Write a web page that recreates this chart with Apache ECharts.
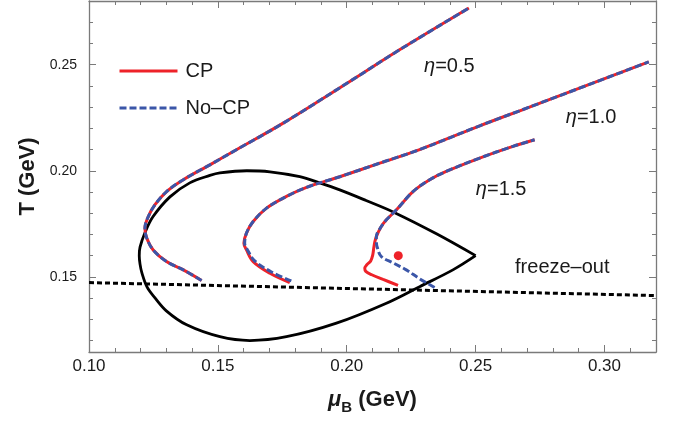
<!DOCTYPE html>
<html>
<head>
<meta charset="utf-8">
<script src="https://cdn.jsdelivr.net/npm/echarts@6/dist/echarts.min.js"></script>
<style>
html, body { margin: 0; padding: 0; background: #fff; }
#main { width: 678px; height: 421px; }
</style>
</head>
<body>
<div id="main"></div>
<script>
// tick values
var xMajor = [0.10, 0.15, 0.20, 0.25, 0.30];
var xMinor = [0.11, 0.12, 0.13, 0.14, 0.16, 0.17, 0.18, 0.19, 0.21, 0.22, 0.23, 0.24, 0.26, 0.27, 0.28, 0.29, 0.31];
var yMajor = [0.15, 0.20, 0.25];
var yMinor = [0.12, 0.13, 0.14, 0.16, 0.17, 0.18, 0.19, 0.21, 0.22, 0.23, 0.24, 0.26, 0.27, 0.28];

// eta = 0.5 (CP and No-CP coincide)
var eta05 = [[0.1437, 0.1483], [0.1366, 0.1533], [0.1301, 0.1572], [0.1249, 0.1627], [0.1224, 0.1683],
    [0.1217, 0.1730], [0.1230, 0.1784], [0.1256, 0.1840], [0.1301, 0.1902], [0.1366, 0.1958],
    [0.1469, 0.2028], [0.1572, 0.2099], [0.1750, 0.2222], [0.2012, 0.2421], [0.2205, 0.2570], [0.2474, 0.2767]];

// eta = 1.0
var eta10Cp = [[0.1779, 0.1473], [0.1702, 0.1517], [0.1637, 0.1572], [0.1611, 0.1627], [0.1601, 0.1659],
    [0.1611, 0.1706], [0.1637, 0.1761], [0.1689, 0.1824], [0.1766, 0.1879], [0.1844, 0.1922],
    [0.1973, 0.1972], [0.2128, 0.2036], [0.2283, 0.2100], [0.2516, 0.2212], [0.2709, 0.2300], [0.3172, 0.2513]];
var eta10NoCp = [[0.1785, 0.1481], [0.1708, 0.1523], [0.1643, 0.1575], [0.1615, 0.1627], [0.1604, 0.1659],
    [0.1611, 0.1706], [0.1637, 0.1761], [0.1689, 0.1824], [0.1766, 0.1879], [0.1844, 0.1922],
    [0.1973, 0.1972], [0.2128, 0.2036], [0.2283, 0.2100], [0.2516, 0.2212], [0.2709, 0.2300], [0.3172, 0.2513]];

// eta = 1.5: shared upper branch, separate lower branches
var eta15Upper = [[0.2115, 0.1690], [0.2134, 0.1737], [0.2154, 0.1769], [0.2193, 0.1816], [0.2257, 0.1902],
    [0.2322, 0.1958], [0.2386, 0.1997], [0.2516, 0.2060], [0.2645, 0.2115], [0.2729, 0.2146]];
var eta15CpLower = [[0.2199, 0.1460], [0.2141, 0.1488], [0.2097, 0.1510], [0.2074, 0.1526], [0.2070, 0.1542],
    [0.2078, 0.1557], [0.2093, 0.1575], [0.2101, 0.1604], [0.2105, 0.1637], [0.2109, 0.1665]];
var eta15NoCpLower = [[0.2341, 0.1450], [0.2283, 0.1491], [0.2231, 0.1533], [0.2180, 0.1566], [0.2134, 0.1596],
    [0.2118, 0.1641], [0.2115, 0.1670]];

// phase boundary loop, starts and ends at the tip
var loop = [[0.2500, 0.1600], [0.2350, 0.1702], [0.2182, 0.1805], [0.2075, 0.1860], [0.1973, 0.1910],
    [0.1895, 0.1943], [0.1818, 0.1972], [0.1702, 0.1995], [0.1612, 0.2000], [0.1508, 0.1990],
    [0.1469, 0.1978], [0.1391, 0.1943], [0.1314, 0.1877], [0.1248, 0.1783], [0.1217, 0.1708],
    [0.1198, 0.1640], [0.1195, 0.1600], [0.1198, 0.1560], [0.1205, 0.1520], [0.1225, 0.1453],
    [0.1256, 0.1401], [0.1300, 0.1340], [0.1379, 0.1274], [0.1508, 0.1218], [0.1624, 0.1200],
    [0.1766, 0.1218], [0.1960, 0.1282], [0.2154, 0.1376], [0.2283, 0.1454], [0.2412, 0.1533], [0.2500, 0.1600]];

var freezeOut = [[0.10, 0.1473], [0.32, 0.1412]];
var critPoint = [[0.22, 0.16]];

var notes = [['η=0.5', 0.2302, 0.2491], ['η=1.0', 0.2852, 0.2250], ['η=1.5', 0.2503, 0.1910], ['freeze–out', 0.2655, 0.1544]];

var RED = '#ee2229';
var BLUE = '#3b56a8';
var FRAME = '#7a7a7a';
var FONT = 'Liberation Sans, Arial, sans-serif';

function frameAxis(gridIndex, pos, min, max, ticks, len, showLine) {
    return {
        type: 'value', gridIndex: gridIndex, position: pos, min: min, max: max,
        axisLine: { show: showLine, onZero: false, lineStyle: { color: FRAME, width: 1.3 } },
        axisTick: { show: true, inside: true, length: len, customValues: ticks, lineStyle: { color: FRAME, width: 1 } },
        axisLabel: { show: false },
        splitLine: { show: false }
    };
}

var myChart = echarts.init(document.getElementById('main'));

var xBottom = frameAxis(0, 'bottom', 0.10, 0.32, xMajor, 7, true);
xBottom.axisLabel = {
    show: true, customValues: xMajor, margin: 6, color: '#1a1a1a', fontSize: 17, fontFamily: FONT,
    formatter: function (v) { return v.toFixed(2); }
};
xBottom.name = '{mu|μ}{sub|B} (GeV)';
xBottom.nameLocation = 'middle';
xBottom.nameGap = 33;
xBottom.nameTextStyle = {
    color: '#1a1a1a', fontSize: 22, fontWeight: 'bold', fontFamily: FONT, lineHeight: 30,
    rich: {
        mu: { fontSize: 22, fontWeight: 'bold', fontStyle: 'italic', fontFamily: FONT, color: '#1a1a1a', lineHeight: 30 },
        sub: { fontSize: 15, fontWeight: 'bold', fontFamily: FONT, color: '#1a1a1a', lineHeight: 15, verticalAlign: 'bottom' }
    }
};

var yLeft = frameAxis(0, 'left', 0.1146, 0.28, yMajor, 7, true);
yLeft.axisLabel = {
    show: true, customValues: yMajor, margin: 12, color: '#1a1a1a', fontSize: 14, fontFamily: FONT,
    formatter: function (v) { return v.toFixed(2); }
};
yLeft.name = 'T (GeV)';
yLeft.nameLocation = 'middle';
yLeft.nameGap = 50;
yLeft.nameTextStyle = { color: '#1a1a1a', fontSize: 22, fontWeight: 'bold', fontFamily: FONT };

function curve(name, data, color, dashed, z) {
    return {
        name: name, type: 'line', data: data, xAxisIndex: 0, yAxisIndex: 0,
        showSymbol: false, symbol: 'none', smooth: 0.35, z: z,
        lineStyle: { color: color, width: 3, type: dashed ? [7, 3] : 'solid' },
        itemStyle: { color: color }
    };
}

var option = {
    animation: false,
    backgroundColor: '#fff',
    grid: [
        { left: 89, right: 22, top: 1, bottom: 69 },
        { left: 89, right: 22, top: 1, bottom: 69 }
    ],
    xAxis: [
        xBottom,
        frameAxis(0, 'top', 0.10, 0.32, xMajor, 7, true),
        frameAxis(1, 'bottom', 0.10, 0.32, xMinor, 4, false),
        frameAxis(1, 'top', 0.10, 0.32, xMinor, 4, false)
    ],
    yAxis: [
        yLeft,
        frameAxis(0, 'right', 0.1146, 0.28, yMajor, 7, true),
        frameAxis(1, 'left', 0.1146, 0.28, yMinor, 4, false),
        frameAxis(1, 'right', 0.1146, 0.28, yMinor, 4, false)
    ],
    legend: {
        data: ['CP', 'No–CP'],
        orient: 'vertical', left: 118, top: 61, padding: 0,
        itemWidth: 58, itemHeight: 20, itemGap: 17,
        itemStyle: { opacity: 0 },
        lineStyle: { width: 3 },
        textStyle: { fontSize: 20, color: '#1a1a1a', fontFamily: FONT, padding: [0, 0, 0, 3] }
    },
    series: [
        {
            name: 'loop', type: 'line', data: loop, showSymbol: false, symbol: 'none', smooth: 0.35, z: 2,
            lineStyle: { color: '#000', width: 2.8 }
        },
        {
            name: 'freeze', type: 'line', data: freezeOut, showSymbol: false, symbol: 'none', z: 2,
            lineStyle: { color: '#000', width: 3, type: [5, 3] }
        },
        curve('CP', eta05, RED, false, 3),
        curve('CP', eta10Cp, RED, false, 3),
        curve('CP', eta15CpLower.concat(eta15Upper), RED, false, 3),
        curve('No–CP', eta05, BLUE, true, 4),
        curve('No–CP', eta10NoCp, BLUE, true, 4),
        curve('No–CP', eta15NoCpLower.concat(eta15Upper), BLUE, true, 4),
        {
            name: 'critical', type: 'scatter', data: critPoint, symbolSize: 9, z: 5,
            itemStyle: { color: RED, opacity: 1 }
        },
        {
            name: 'notes', type: 'scatter', symbolSize: 1, z: 5, silent: true,
            data: notes.map(function (n) { return { name: n[0], value: [n[1], n[2]] }; }),
            itemStyle: { color: 'rgba(0,0,0,0)', opacity: 1 },
            label: {
                show: true, position: [0, 0], align: 'left', verticalAlign: 'middle',
                fontSize: 20, color: '#1a1a1a', fontFamily: FONT,
                formatter: function (p) { return p.name.replace('η', '{i|η}'); },
                rich: { i: { fontSize: 20, fontStyle: 'italic', color: '#1a1a1a', fontFamily: FONT } }
            }
        }
    ]
};

myChart.setOption(option);
</script>
</body>
</html>
